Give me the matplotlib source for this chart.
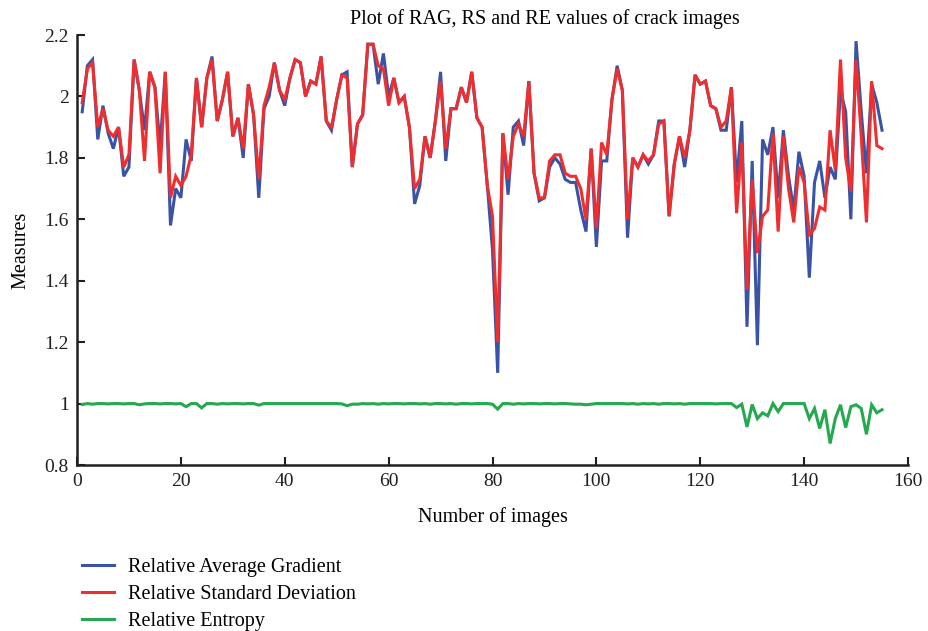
import matplotlib
matplotlib.use("Agg")
import matplotlib.pyplot as plt
from matplotlib.ticker import FuncFormatter, MultipleLocator

plt.rcParams['font.family'] = ['Liberation Serif', 'DejaVu Serif']

image_index = list(range(1, 156))

rag = [1.95, 2.10, 2.12, 1.86, 1.97, 1.88, 1.83, 1.90, 1.74, 1.77,
       2.12, 2.02, 1.89, 2.08, 2.03, 1.84, 2.08, 1.58, 1.70, 1.67,
       1.86, 1.79, 2.06, 1.90, 2.06, 2.13, 1.92, 1.99, 2.08, 1.87,
       1.93, 1.80, 2.04, 1.94, 1.67, 1.96, 2.00, 2.11, 2.02, 1.97,
       2.06, 2.12, 2.11, 2.00, 2.05, 2.04, 2.13, 1.92, 1.89, 1.99,
       2.07, 2.08, 1.77, 1.91, 1.94, 2.17, 2.17, 2.04, 2.14, 2.00,
       2.06, 1.98, 2.00, 1.90, 1.65, 1.71, 1.87, 1.80, 1.92, 2.08,
       1.79, 1.96, 1.96, 2.03, 1.98, 2.08, 1.93, 1.90, 1.71, 1.50,
       1.10, 1.88, 1.68, 1.90, 1.92, 1.84, 2.05, 1.75, 1.66, 1.67,
       1.77, 1.80, 1.78, 1.73, 1.72, 1.72, 1.63, 1.56, 1.83, 1.51,
       1.79, 1.79, 1.99, 2.10, 2.02, 1.54, 1.80, 1.77, 1.81, 1.78,
       1.81, 1.92, 1.92, 1.61, 1.78, 1.87, 1.77, 1.89, 2.07, 2.04,
       2.05, 1.97, 1.96, 1.89, 1.89, 2.03, 1.72, 1.92, 1.25, 1.79,
       1.19, 1.86, 1.81, 1.90, 1.67, 1.89, 1.74, 1.63, 1.82, 1.74,
       1.41, 1.72, 1.79, 1.67, 1.77, 1.73, 2.02, 1.95, 1.60, 2.18,
       1.95, 1.75, 2.04, 1.98, 1.89]

rsd = [1.98, 2.09, 2.11, 1.90, 1.96, 1.89, 1.87, 1.90, 1.77, 1.81,
       2.12, 2.02, 1.79, 2.08, 2.03, 1.75, 2.08, 1.67, 1.74, 1.71,
       1.74, 1.81, 2.06, 1.90, 2.06, 2.12, 1.92, 1.99, 2.08, 1.87,
       1.93, 1.83, 2.04, 1.94, 1.73, 1.97, 2.03, 2.11, 2.02, 1.99,
       2.06, 2.12, 2.11, 2.00, 2.05, 2.04, 2.13, 1.92, 1.90, 1.99,
       2.07, 2.06, 1.77, 1.91, 1.94, 2.17, 2.17, 2.10, 2.09, 1.97,
       2.06, 1.98, 2.00, 1.90, 1.70, 1.73, 1.87, 1.80, 1.92, 2.05,
       1.83, 1.96, 1.96, 2.03, 1.98, 2.08, 1.93, 1.90, 1.71, 1.61,
       1.20, 1.88, 1.73, 1.87, 1.91, 1.87, 2.05, 1.75, 1.67, 1.67,
       1.79, 1.81, 1.81, 1.75, 1.74, 1.74, 1.70, 1.60, 1.83, 1.57,
       1.85, 1.81, 1.99, 2.09, 2.02, 1.60, 1.80, 1.77, 1.81, 1.79,
       1.81, 1.91, 1.92, 1.61, 1.78, 1.87, 1.80, 1.89, 2.07, 2.04,
       2.05, 1.97, 1.96, 1.90, 1.92, 2.03, 1.62, 1.85, 1.37, 1.73,
       1.49, 1.61, 1.63, 1.88, 1.56, 1.87, 1.70, 1.59, 1.77, 1.72,
       1.55, 1.57, 1.64, 1.63, 1.89, 1.76, 2.12, 1.80, 1.69, 2.12,
       1.87, 1.59, 2.05, 1.84, 1.83]

re = [0.997, 1.000, 0.998, 1.000, 1.000, 0.999, 1.000, 1.000, 0.999, 1.000,
      1.000, 0.996, 0.999, 1.000, 1.000, 0.999, 1.000, 1.000, 0.999, 1.000,
      0.990, 1.000, 1.000, 0.986, 1.000, 1.000, 0.998, 1.000, 0.999, 1.000,
      1.000, 0.999, 1.000, 1.000, 0.995, 1.000, 1.000, 1.000, 1.000, 1.000,
      1.000, 1.000, 1.000, 1.000, 1.000, 1.000, 1.000, 1.000, 1.000, 1.000,
      0.999, 0.993, 0.998, 0.998, 1.000, 0.999, 1.000, 0.998, 1.000, 0.999,
      1.000, 1.000, 0.999, 1.000, 1.000, 0.999, 1.000, 0.998, 1.000, 1.000,
      0.999, 1.000, 0.998, 1.000, 1.000, 0.999, 1.000, 1.000, 1.000, 0.998,
      0.982, 1.000, 1.000, 0.998, 1.000, 0.999, 1.000, 1.000, 0.999, 1.000,
      1.000, 0.999, 1.000, 1.000, 0.999, 0.998, 0.998, 0.996, 0.998, 1.000,
      1.000, 1.000, 1.000, 1.000, 1.000, 0.999, 1.000, 0.998, 1.000, 0.999,
      1.000, 0.998, 1.000, 1.000, 0.999, 1.000, 0.998, 1.000, 1.000, 1.000,
      1.000, 1.000, 0.999, 1.000, 1.000, 1.000, 0.987, 0.998, 0.924, 0.997,
      0.951, 0.970, 0.960, 1.000, 0.974, 1.000, 1.000, 1.000, 1.000, 1.000,
      0.951, 0.984, 0.919, 0.980, 0.870, 0.951, 0.996, 0.922, 0.990, 0.996,
      0.984, 0.900, 0.996, 0.970, 0.980]

series_labels = ["Relative Average Gradient", "Relative Standard Deviation", "Relative Entropy"]
series_colors = ["#3A53A4", "#EE2E2F", "#25A84F"]

fig = plt.figure(figsize=(9.29, 6.31), dpi=100)
ax = fig.add_axes([77 / 929, 1 - 465 / 631, (908 - 77) / 929, (465 - 35) / 631])

lines = []
for vals, lab, col in zip([rag, rsd, re], series_labels, series_colors):
    ln, = ax.plot(image_index, vals, color=col, lw=2.2, label=lab, solid_joinstyle='miter')
    lines.append(ln)

ax.set_xlim(0, 160)
ax.set_ylim(0.8, 2.2)
ax.xaxis.set_major_locator(MultipleLocator(20))
ax.yaxis.set_major_locator(MultipleLocator(0.2))
ax.yaxis.set_major_formatter(FuncFormatter(lambda v, p: f"{v:g}"))
for s in ["top", "right"]:
    ax.spines[s].set_visible(False)
for s in ["left", "bottom"]:
    ax.spines[s].set_linewidth(1.8)
    ax.spines[s].set_color("#231F20")
ax.tick_params(direction="in", length=6, width=1.5, labelsize=14, colors="#231F20", pad=6)

ax.set_xlabel("Number of images", fontsize=14.5, labelpad=12)
ax.set_ylabel("Measures", fontsize=14.5, labelpad=10)
fig.text(545 / 929, 1 - 19 / 631, "Plot of RAG, RS and RE values of crack images",
         ha="center", va="center", fontsize=14.5)

fig.legend(handles=lines, loc="upper left", bbox_to_anchor=(74 / 929, 1 - 550 / 631),
           frameon=False, fontsize=14.5, handlelength=1.6, handletextpad=0.7,
           labelspacing=0.38, borderaxespad=0)

fig.savefig("out.png", dpi=100)
